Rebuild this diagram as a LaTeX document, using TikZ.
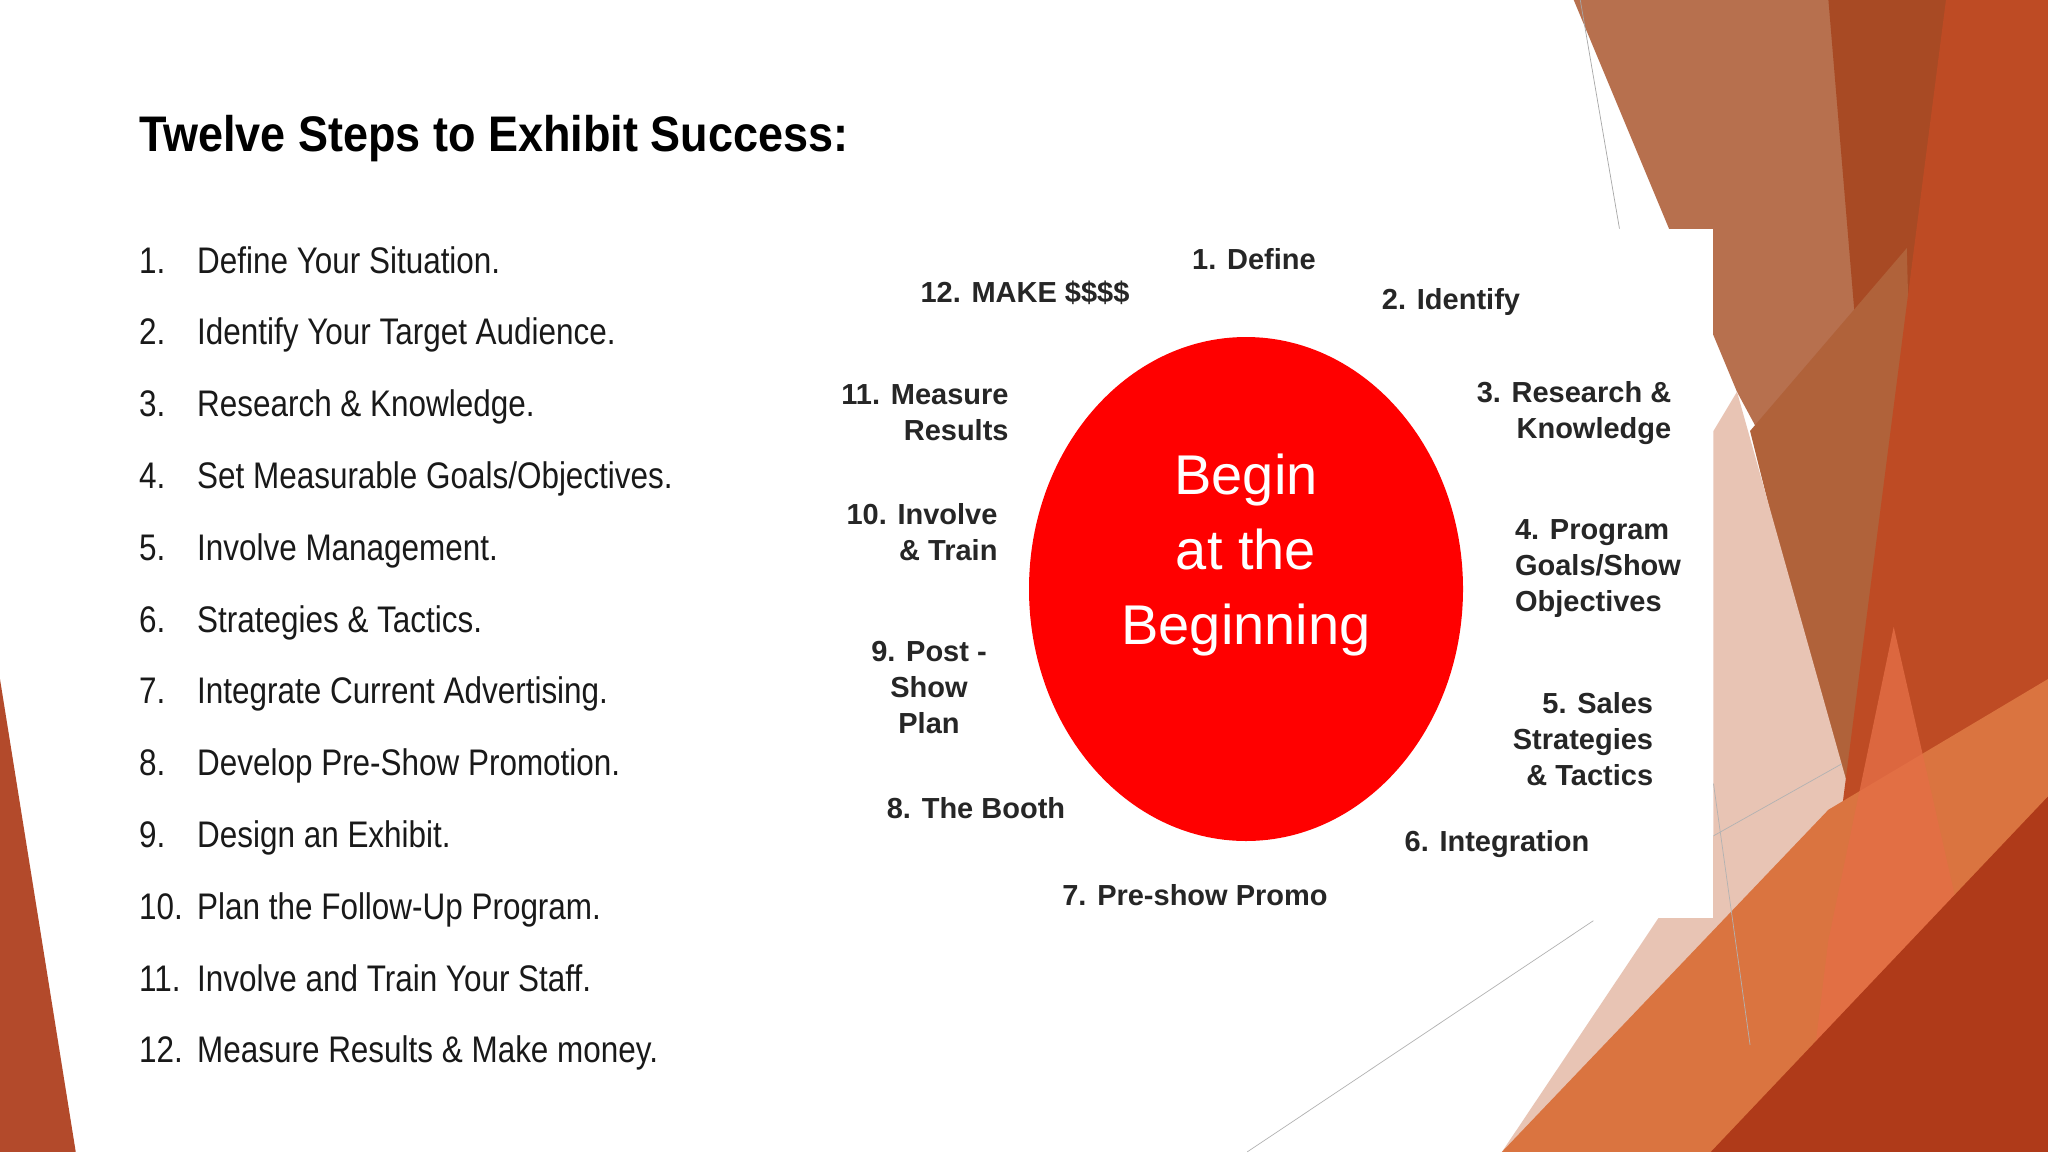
\documentclass[tikz,border=0pt]{standalone}
\usepackage{fontspec}
\usetikzlibrary{shapes.geometric}
\setmainfont{Liberation Sans}
\newfontfamily\condfont[FakeStretch=0.85]{Liberation Sans}
\newfontfamily\titlefont[FakeStretch=0.9]{Liberation Sans}
\begin{document}
\begin{tikzpicture}[x=1pt,y=-1pt,
  lab/.style={font=\fontsize{29}{36}\selectfont\bfseries, text=black!85, align=center, inner sep=0pt},
  item/.style={font=\condfont\fontsize{37}{40}\selectfont, text=black!90, anchor=base west, inner sep=0pt}]
\useasboundingbox (0,0) rectangle (2048,1152);
\fill[white] (0,0) rectangle (2048,1152);
% decoration (display coords scaled)
\begin{scope}[xscale=1.306,yscale=1.306]
\fill[color={rgb,255:red,183;green,112;blue,78}] (1205,0) -- (1415,0) -- (1470,560) -- (1330,300) -- cycle;
\fill[color={rgb,255:red,168;green,74;blue,36}] (1400,0) -- (1500,0) -- (1450,600) -- cycle;
\fill[color={rgb,255:red,176;green,98;blue,58}] (1340,330) -- (1460,190) -- (1470,560) -- (1420,650) -- cycle;
\fill[color={rgb,255:red,232;green,196;blue,180}] (1330,300) -- (1420,620) -- (1200,882) -- (1150,882) -- (1312,640) -- (1312,330) -- cycle;
\fill[color={rgb,255:red,190;green,75;blue,36}] (1490,0) -- (1568,0) -- (1568,882) -- (1400,700) -- cycle;
\fill[color={rgb,255:red,218;green,116;blue,64}] (1150,882) -- (1400,620) -- (1568,520) -- (1568,882) -- cycle;
\fill[color={rgb,255:red,228;green,110;blue,70},opacity=0.8] (1400,720) -- (1450,480) -- (1500,700) -- (1470,882) -- (1380,882) -- cycle;
\fill[color={rgb,255:red,175;green,58;blue,25}] (1310,882) -- (1568,610) -- (1568,882) -- cycle;
\fill[color={rgb,255:red,179;green,74;blue,43}] (0,520) -- (58,882) -- (0,882) -- cycle;
\draw[gray!70,line width=0.7] (1210,0) -- (1240,175);
\draw[gray!60,line width=0.7] (955,882) -- (1220,705);
\draw[gray!60,line width=0.7] (1312,640) -- (1410,585);
\draw[gray!60,line width=0.7] (1312,600) -- (1340,800);
\end{scope}
% white picture box
\fill[white] (816,229) rectangle (1713,918);
% title
\node[anchor=west,inner sep=0pt,font=\titlefont\fontsize{50}{56}\selectfont\bfseries] (title) at (139,139) {Twelve Steps to Exhibit Success:};
% list
\foreach \n/\t [count=\i from 0] in {1./{Define Your Situation.},2./{Identify Your Target Audience.},3./{Research \& Knowledge.},4./{Set Measurable Goals/Objectives.},5./{Involve Management.},6./{Strategies \& Tactics.},7./{Integrate Current Advertising.},8./{Develop Pre-Show Promotion.},9./{Design an Exhibit.},10./{Plan the Follow-Up Program.},11./{Involve and Train Your Staff.},12./{Measure Results \& Make money.}}{
  \node[item] (n\i) at (139,{273+71.8*\i}) {\n};
  \node[item] (t\i) at (197,{273+71.8*\i}) {\t};
}
% circle
\node[ellipse,minimum width=434,minimum height=504,fill=red,draw=none] (circ) at (1246,589) {};
\node[align=center,text=white,inner sep=0pt,font=\fontsize{56}{75}\selectfont] (ctext) at (1246,555) {Begin\\at the\\Beginning};
% labels
\node[lab] (l12) at (1025,293) {12. MAKE \$\$\$\$};
\node[lab] (l1) at (1254,259) {1. Define};
\node[lab] (l2) at (1451,302) {2. Identify};
\node[lab,align=right] (l11) at (925,413) {11. Measure\\Results};
\node[lab,align=right] (l3) at (1574,413) {3. Research \&\\Knowledge};
\node[lab,align=right] (l10) at (922,532) {10. Involve\\\& Train};
\node[lab,align=left] (l4) at (1598,569) {4. Program\\Goals/Show\\Objectives};
\node[lab] (l9) at (929,688) {9. Post -\\Show\\Plan};
\node[lab,align=right] (l5) at (1583,739) {5. Sales\\Strategies\\\& Tactics};
\node[lab] (l8) at (976,808) {8. The Booth};
\node[lab] (l6) at (1497,844) {6. Integration};
\node[lab] (l7) at (1195,895) {7. Pre-show Promo};
\end{tikzpicture}
\end{document}
